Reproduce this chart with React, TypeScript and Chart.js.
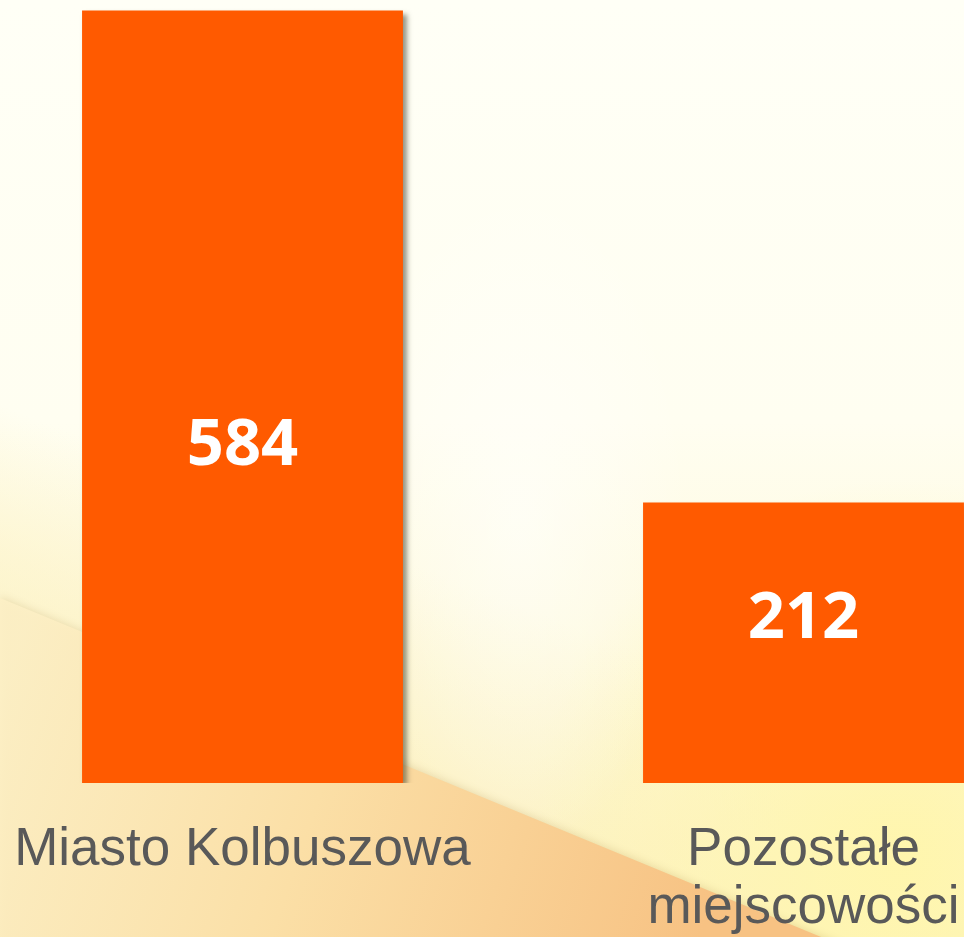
import React, { useEffect, useRef } from "react";
import { Chart, registerables } from "chart.js";

Chart.register(...registerables);

// ---- data ----
const categories: (string | string[])[] = ["Miasto Kolbuszowa", ["Pozostałe", "miejscowości"]];
const values: number[] = [584, 212];
const valueLabels: string[] = ["584", "212"];
const yMax = 592;

// ---- layout / style ----
const PAGE_W = 964;
const PAGE_H = 937;
const SHIFT = 38; // canvas starts 38px left of the page
const CANVAS_W = 1122;
const BAR_COLOR = "#FF5A00";
const TEXT_COLOR = "#595959";
const labelBaselineFractions = [0.588, 0.484];

function drawBackground(ctx: CanvasRenderingContext2D) {
  // base
  const g = ctx.createLinearGradient(0, 0, 0, PAGE_H);
  g.addColorStop(0, "#FFFFF6");
  g.addColorStop(0.45, "#FFFEF1");
  g.addColorStop(0.7, "#FEF9DC");
  g.addColorStop(1, "#FDF2C6");
  ctx.fillStyle = g;
  ctx.fillRect(0, 0, PAGE_W, PAGE_H);

  // soft diagonal yellow band (no hard edge)
  const g2 = ctx.createLinearGradient(300, 520, 200, 780);
  g2.addColorStop(0, "rgba(252,242,196,0)");
  g2.addColorStop(0.5, "rgba(252,242,196,0.55)");
  g2.addColorStop(1, "rgba(252,240,188,0.85)");
  ctx.fillStyle = g2;
  ctx.fillRect(0, 0, PAGE_W, PAGE_H);

  // yellow tint on the right bottom
  const rg = ctx.createRadialGradient(900, 860, 10, 900, 860, 380);
  rg.addColorStop(0, "rgba(255,246,172,0.95)");
  rg.addColorStop(1, "rgba(255,246,172,0)");
  ctx.fillStyle = rg;
  ctx.fillRect(0, 0, PAGE_W, PAGE_H);

  // subtle white glow in the middle
  ctx.save();
  ctx.translate(520, 520);
  ctx.scale(0.7, 1.4);
  const wg = ctx.createRadialGradient(0, 0, 10, 0, 0, 240);
  wg.addColorStop(0, "rgba(255,255,252,0.6)");
  wg.addColorStop(1, "rgba(255,255,252,0)");
  ctx.fillStyle = wg;
  ctx.fillRect(-600, -600, 1200, 1200);
  ctx.restore();

  // orange swoosh below the diagonal
  ctx.save();
  ctx.beginPath();
  ctx.moveTo(0, 598);
  ctx.lineTo(PAGE_W, 996);
  ctx.lineTo(0, 996);
  ctx.closePath();
  ctx.shadowColor = "rgba(150,110,40,0.2)";
  ctx.shadowBlur = 8;
  ctx.shadowOffsetY = -1;
  const sg = ctx.createLinearGradient(0, 700, 700, 937);
  sg.addColorStop(0, "rgba(253,240,198,0.9)");
  sg.addColorStop(0.45, "#FBDFA6");
  sg.addColorStop(1, "#F7C283");
  ctx.fillStyle = sg;
  ctx.fill();
  ctx.restore();
}

const bgPlugin = {
  id: "bg",
  beforeDraw(chart: any) {
    const ctx = chart.ctx as CanvasRenderingContext2D;
    ctx.save();
    ctx.translate(SHIFT, 0);
    drawBackground(ctx);
    ctx.restore();
  },
};

const shadowPlugin = {
  id: "barShadow",
  beforeDatasetsDraw(chart: any) {
    const ctx = chart.ctx as CanvasRenderingContext2D;
    ctx.save();
    ctx.shadowColor = "rgba(60,60,40,0.55)";
    ctx.shadowBlur = 5;
    ctx.shadowOffsetX = 4;
    ctx.shadowOffsetY = 3;
  },
  afterDatasetsDraw(chart: any) {
    const ctx = chart.ctx as CanvasRenderingContext2D;
    ctx.restore();

    // value labels
    const meta = chart.getDatasetMeta(0);
    ctx.save();
    ctx.fillStyle = "#FFFFFF";
    ctx.font = "bold 65px 'Open Sans', 'DejaVu Sans', sans-serif";
    ctx.textAlign = "center";
    ctx.textBaseline = "alphabetic";
    meta.data.forEach((el: any, i: number) => {
      const y = el.y + labelBaselineFractions[i] * (el.base - el.y);
      ctx.fillText(valueLabels[i], el.x, y);
    });
    ctx.restore();

    // category labels
    const xs = chart.scales.x;
    ctx.save();
    ctx.fillStyle = TEXT_COLOR;
    ctx.font = "53px 'Liberation Sans', Arial, sans-serif";
    ctx.textAlign = "center";
    ctx.textBaseline = "alphabetic";
    const baseY = chart.chartArea.bottom + 82;
    categories.forEach((c, i) => {
      const lines = Array.isArray(c) ? c : [c];
      const x = xs.getPixelForValue(i);
      lines.forEach((line, j) => {
        ctx.fillText(line, x, baseY + j * 58);
      });
    });
    ctx.restore();
  },
};

export default function App() {
  const ref = useRef<HTMLCanvasElement | null>(null);

  useEffect(() => {
    if (!ref.current) return;
    const chart = new Chart(ref.current, {
      type: "bar",
      data: {
        labels: categories as any,
        datasets: [
          {
            data: values,
            backgroundColor: BAR_COLOR,
            borderWidth: 0,
            barPercentage: 0.572,
            categoryPercentage: 1,
          },
        ],
      },
      options: {
        responsive: false,
        animation: false,
        devicePixelRatio: 1,
        layout: { padding: { top: 0, bottom: PAGE_H - 783, left: 0, right: 0 } },
        plugins: { legend: { display: false }, tooltip: { enabled: false } },
        scales: {
          x: { display: false, offset: true },
          y: { display: false, min: 0, max: yMax },
        },
      },
      plugins: [bgPlugin, shadowPlugin],
    });
    return () => chart.destroy();
  }, []);

  return (
    <div
      style={{
        position: "absolute",
        left: 0,
        top: 0,
        width: PAGE_W,
        height: PAGE_H,
        overflow: "hidden",
        background: "#FFFFF6",
      }}
    >
      <canvas
        ref={ref}
        width={CANVAS_W}
        height={PAGE_H}
        style={{ position: "absolute", left: -SHIFT, top: 0, width: CANVAS_W, height: PAGE_H }}
      />
    </div>
  );
}
